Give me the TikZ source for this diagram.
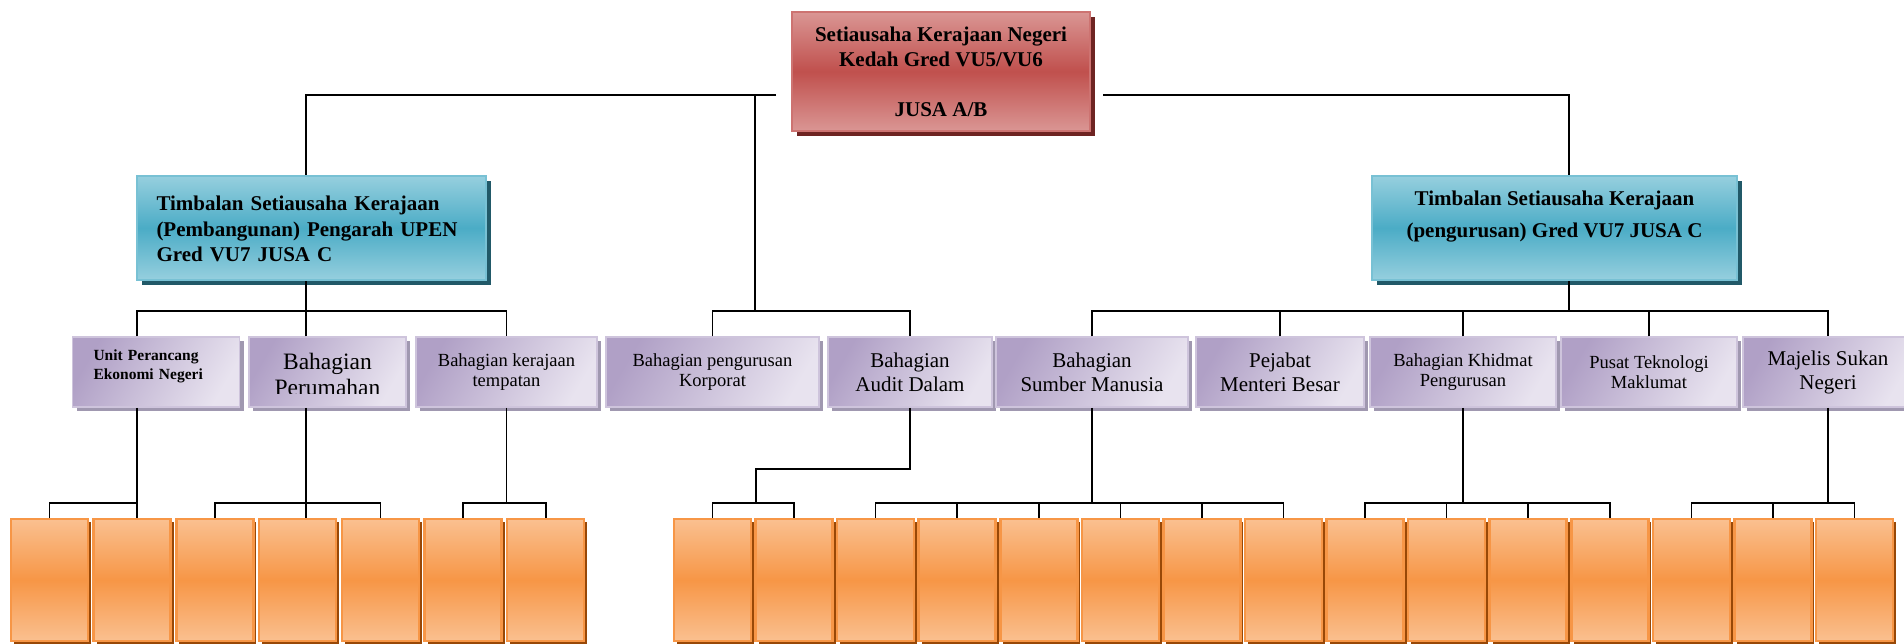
\documentclass[tikz,border=0pt]{standalone}
\usepackage{fontspec}
\setmainfont{Liberation Serif}
\usepackage{tikz}
\usetikzlibrary{shadows,calc}
\usepackage{xcolor}
\definecolor{kpRed}{RGB}{192,80,77}
\definecolor{kpRedL}{RGB}{218,150,148}
\definecolor{kpRedS}{RGB}{110,36,34}
\definecolor{kpTeal}{RGB}{75,172,198}
\definecolor{kpTealL}{RGB}{150,207,222}
\definecolor{kpTealS}{RGB}{33,89,104}
\definecolor{kpPurD}{RGB}{176,160,198}
\definecolor{kpPurL}{RGB}{232,227,239}
\definecolor{kpPurB}{RGB}{206,196,220}
\definecolor{kpPurS}{RGB}{160,152,176}
\definecolor{kpOrg}{RGB}{247,150,70}
\definecolor{kpOrgL}{RGB}{250,192,144}
\definecolor{kpOrgS}{RGB}{152,72,7}

\begin{document}
\begin{tikzpicture}[x=1pt, y=-1pt,
  ketua/.style={rectangle, draw=kpRed!80, line width=2pt,
                top color=kpRedL, bottom color=kpRedL, middle color=kpRed,
                copy shadow={shadow xshift=5pt, shadow yshift=-5pt, fill=kpRedS, draw=none},
                minimum width=298pt, minimum height=119pt, inner sep=0pt,
                align=center, font=\fontsize{21}{25}\selectfont\bfseries},
  timbalan/.style={rectangle, draw=kpTeal!75, line width=2pt,
                top color=kpTealL, bottom color=kpTealL, middle color=kpTeal,
                copy shadow={shadow xshift=5pt, shadow yshift=-5pt, fill=kpTealS, draw=none},
                minimum height=104pt, inner sep=0pt,
                font=\fontsize{21}{25.5}\selectfont\bfseries},
  bhg/.style={rectangle, draw=kpPurB, line width=1.5pt,
              top color=kpPurD, bottom color=kpPurL, shading angle=60,
              copy shadow={shadow xshift=4pt, shadow yshift=-4pt, fill=kpPurS, draw=none},
              minimum height=70pt, inner sep=0pt,
              align=center, font=\fontsize{18.5}{20}\selectfont},
  besar/.style={font=\fontsize{21}{24}\selectfont},
  kosong/.style={rectangle, draw=kpOrg, line width=2.5pt,
                 top color=kpOrgL, bottom color=kpOrgL, middle color=kpOrg,
                 copy shadow={shadow xshift=3pt, shadow yshift=-3pt, fill=kpOrgS, draw=none},
                 minimum width=77pt, minimum height=122pt, inner sep=0pt},
  garis/.style={line width=1.6pt, black},
]
\useasboundingbox (0,0) rectangle (1904,643);

% Top level
\node[ketua] (setiausaha) at (941,71.5)
  {Setiausaha Kerajaan Negeri\\Kedah Gred VU5/VU6\\[25pt]JUSA A/B};

% Deputies
\node[timbalan, minimum width=349pt, text width=310pt, align=left, text depth=49pt]
  (tpLeft) at (311.5,228)
  {Timbalan Setiausaha Kerajaan\\(Pembangunan) Pengarah UPEN\\Gred VU7 JUSA C};
\node[timbalan, minimum width=365pt, align=center, text depth=28pt,
      font=\fontsize{21}{32}\selectfont\bfseries]
  (tpRight) at (1554.5,228)
  {Timbalan Setiausaha Kerajaan\\(pengurusan) Gred VU7 JUSA C};

% Divisions
\node[bhg, minimum width=167pt, text width=125pt, align=left, text depth=33pt,
      font=\fontsize{15.5}{18.5}\selectfont\bfseries]
  (upen) at (156,372) {Unit Perancang\\Ekonomi Negeri};
\node[bhg, minimum width=157pt] (perum) at (327.5,372) {};
\node[bhg, minimum width=181pt] (ktemp) at (506.5,372) {Bahagian kerajaan\\tempatan};
\node[bhg, minimum width=213pt] (korp) at (712.5,372) {Bahagian pengurusan\\Korporat};
\node[bhg, besar, minimum width=164pt] (audit) at (910,372) {Bahagian\\Audit Dalam};
\node[bhg, besar, minimum width=192pt] (sumber) at (1092,372) {Bahagian\\Sumber Manusia};
\node[bhg, besar, minimum width=168pt] (pejabat) at (1280,372) {Pejabat\\Menteri Besar};
\node[bhg, minimum width=186pt] (khidmat) at (1463,372) {Bahagian Khidmat\\Pengurusan};
\node[bhg, minimum width=176pt] (pusat) at (1649,372) {Pusat Teknologi\\Maklumat};
\node[bhg, besar, minimum width=170pt] (majlis) at (1828,372) {Majelis Sukan\\Negeri};

% Perumahan text runs past its frame
\begin{scope}
  \clip (perum.north west) rectangle ([yshift=14.5pt]perum.south east);
  \node[font=\fontsize{23.5}{26}\selectfont, align=center]
    (perumTeks) at ([yshift=-2pt]perum.center) {Bahagian\\Perumahan};
\end{scope}

% Empty unit boxes
\foreach \i in {1,...,7}
  \node[kosong] (o\i) at ({49.5+(\i-1)*82.7},580) {};
\foreach \i in {8,...,22}
  \node[kosong] (o\i) at ({712.5+(\i-8)*81.57},580) {};

% Junctions
\coordinate (tL) at (776,95);
\coordinate (tR) at (1103,95);
\coordinate (jT) at (755,311);
\coordinate (jL) at (306,311);
\coordinate (jR) at (1569,311);
\coordinate (jU) at (137,503);
\coordinate (kA) at (756,469);
\coordinate (b3) at (0,503);

% Top to deputies and middle divisions
\draw[garis] (tL) -| (tpLeft.north -| jL);
\draw[garis] (tR) -| (tpRight.north -| jR);
\draw[garis] (tL -| jT) -- (jT);
\draw[garis] (korp.north) |- (jT) -| (audit.north);

% Left deputy
\draw[garis] (tpLeft.south -| jL) -- (jL);
\draw[garis] (upen.north -| jU) |- (jL) -| (ktemp.north);
\draw[garis] (perum.north -| jL) -- (jL);

% Right deputy
\draw[garis] (tpRight.south -| jR) -- (jR);
\draw[garis] (sumber.north) |- (jR) -| (majlis.north);
\foreach \n in {pejabat,khidmat,pusat}
  \draw[garis] (\n.north) -- (\n.north |- jR);

% Division to units
\draw[garis] (upen.south -| jU) -- (jU |- o2.north);
\draw[garis] (o1.north) |- (jU);
\draw[garis] (perum.south -| jL) -- (jL |- o4.north);
\draw[garis] (o3.north) |- (b3 -| jL) -| (o5.north);
\draw[garis] (ktemp.south) -- (b3 -| ktemp.south);
\draw[garis] (o6.north) |- (b3 -| ktemp.south) -| (o7.north);
\draw[garis] (audit.south) |- (kA) -- (kA |- b3);
\draw[garis] (o8.north) |- (kA |- b3) -| (o9.north);
\draw[garis] (sumber.south) -- (b3 -| sumber.south);
\draw[garis] (o10.north) |- (b3 -| sumber.south) -| (o15.north);
\foreach \i in {11,...,14}
  \draw[garis] (o\i.north) -- (o\i.north |- b3);
\draw[garis] (khidmat.south) -- (b3 -| khidmat.south);
\draw[garis] (o16.north) |- (b3 -| khidmat.south) -| (o19.north);
\foreach \i in {17,18}
  \draw[garis] (o\i.north) -- (o\i.north |- b3);
\draw[garis] (majlis.south) -- (b3 -| majlis.south);
\draw[garis] (o20.north) |- (b3 -| majlis.south) -| (o22.north);
\draw[garis] (o21.north) -- (o21.north |- b3);
\end{tikzpicture}
\end{document}
